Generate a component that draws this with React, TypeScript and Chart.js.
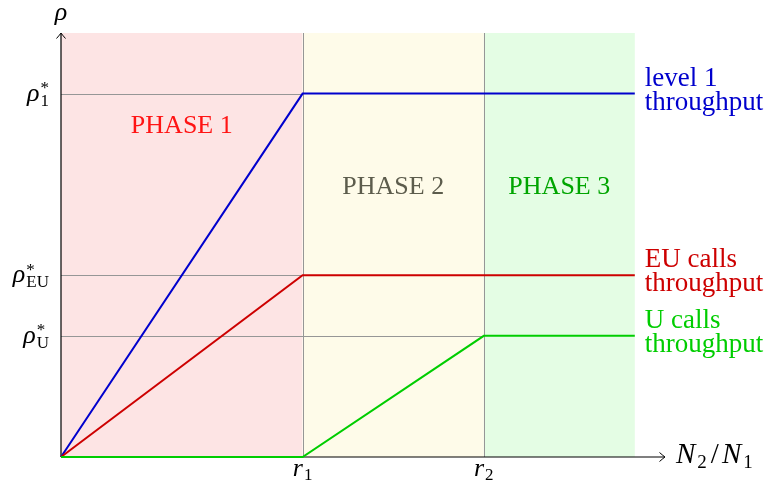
import React, { useEffect, useRef } from 'react';
import { Chart, registerables } from 'chart.js';

Chart.register(...registerables);

// ---- data ----
const xKnots = [0, 4, 7, 9.5];
const level1Throughput = [0, 6, 6, 6];
const euCallsThroughput = [0, 3, 3, 3];
const uCallsThroughput = [0, 0, 2, 2];
const phaseBounds = [0, 4, 7, 9.5];
const phaseNames = ['PHASE 1', 'PHASE 2', 'PHASE 3'];
const xTickValues = [4, 7];
const xTickSubs = ['1', '2'];
const yTickValues = [6, 3, 2];
const yTickSubs = ['1', 'EU', 'U'];
const seriesLabels = [
  ['level 1', 'throughput'],
  ['EU calls', 'throughput'],
  ['U calls', 'throughput'],
];
const X_MAX = 10;
const Y_MAX = 7;

// ---- styles ----
const SERIF = '"Liberation Serif", "Times New Roman", serif';
const f = (size: number, italic = false) => `${italic ? 'italic ' : ''}${size}px ${SERIF}`;
const BLUE = 'rgb(0,0,205)';
const RED = 'rgb(205,0,0)';
const GREEN = 'rgb(0,205,0)';
const phaseFills = ['rgb(253,228,228)', 'rgb(254,251,233)', 'rgb(228,253,228)'];
const phaseColors = ['rgb(255,20,20)', 'rgb(92,92,76)', 'rgb(0,165,0)'];
const seriesColors = [BLUE, RED, GREEN];
const seriesValues = [level1Throughput, euCallsThroughput, uCallsThroughput];

function arrow(ctx: CanvasRenderingContext2D, x: number, y: number, dir: 'right' | 'up') {
  ctx.save();
  ctx.translate(x, y);
  if (dir === 'up') ctx.rotate(-Math.PI / 2);
  ctx.beginPath();
  ctx.moveTo(-5.5, -4.5);
  ctx.quadraticCurveTo(-1.5, -1, 0, 0);
  ctx.quadraticCurveTo(-1.5, 1, -5.5, 4.5);
  ctx.lineWidth = 1;
  ctx.strokeStyle = '#000';
  ctx.stroke();
  ctx.restore();
}

const decorPlugin = {
  id: 'decor',
  beforeDatasetsDraw(chart: any) {
    const ctx: CanvasRenderingContext2D = chart.ctx;
    const xs = chart.scales.x;
    const ys = chart.scales.y;
    const X = (v: number) => xs.getPixelForValue(v);
    const Y = (v: number) => ys.getPixelForValue(v);
    ctx.save();
    // phase shading
    for (let i = 0; i < phaseNames.length; i++) {
      ctx.fillStyle = phaseFills[i];
      const x0 = X(phaseBounds[i]);
      const x1 = X(phaseBounds[i + 1]);
      ctx.fillRect(x0, Y(Y_MAX), x1 - x0, Y(0) - Y(Y_MAX));
    }
    // grey guides
    ctx.strokeStyle = 'rgb(150,150,150)';
    ctx.lineWidth = 1;
    xTickValues.forEach((v) => {
      ctx.beginPath();
      ctx.moveTo(Math.round(X(v)) + 0.5, Y(0));
      ctx.lineTo(Math.round(X(v)) + 0.5, Y(Y_MAX));
      ctx.stroke();
    });
    yTickValues.forEach((v, i) => {
      const vals = seriesValues[i];
      const idx = vals.findIndex((a) => a === v);
      const xe = xKnots[idx];
      ctx.beginPath();
      ctx.moveTo(X(0), Math.round(Y(v)) + 0.5);
      ctx.lineTo(X(xe), Math.round(Y(v)) + 0.5);
      ctx.stroke();
    });
    // phase labels
    ctx.font = f(26);
    ctx.textAlign = 'center';
    ctx.textBaseline = 'alphabetic';
    const phaseLabelY = [5.35, 4.34, 4.34];
    phaseNames.forEach((name, i) => {
      ctx.fillStyle = phaseColors[i];
      ctx.fillText(name, X((phaseBounds[i] + phaseBounds[i + 1]) / 2), Y(phaseLabelY[i]));
    });
    // axes
    ctx.strokeStyle = '#000';
    ctx.lineWidth = 1.2;
    ctx.beginPath();
    ctx.moveTo(X(0), Y(0));
    ctx.lineTo(X(X_MAX) - 0.5, Y(0));
    ctx.moveTo(X(0), Y(0));
    ctx.lineTo(X(0), Y(Y_MAX) + 0.5);
    ctx.stroke();
    arrow(ctx, X(X_MAX), Y(0), 'right');
    arrow(ctx, X(0), Y(Y_MAX), 'up');
    ctx.restore();
  },
  afterDraw(chart: any) {
    const ctx: CanvasRenderingContext2D = chart.ctx;
    const xs = chart.scales.x;
    const ys = chart.scales.y;
    const X = (v: number) => xs.getPixelForValue(v);
    const Y = (v: number) => ys.getPixelForValue(v);
    ctx.save();
    ctx.textBaseline = 'alphabetic';
    ctx.textAlign = 'left';
    ctx.fillStyle = '#000';

    // y tick labels: rho*_sub
    yTickValues.forEach((v, i) => {
      const py = Y(v);
      ctx.font = f(26, true);
      const wRho = ctx.measureText('ρ').width;
      ctx.font = f(17);
      const wSub = ctx.measureText(yTickSubs[i]).width;
      const wStar = ctx.measureText('*').width;
      const total = wRho + Math.max(wSub, wStar) + 1;
      const sx = X(0) - 12 - total;
      ctx.font = f(26, true);
      ctx.fillText('ρ', sx, py + 7);
      ctx.font = f(17);
      ctx.fillText('*', sx + wRho + 1, py - 0.5);
      ctx.fillText(yTickSubs[i], sx + wRho + 1, py + 12);
    });

    // x tick labels: r_sub
    xTickValues.forEach((v, i) => {
      const px = X(v);
      ctx.font = f(26, true);
      const wr = ctx.measureText('r').width;
      ctx.font = f(17);
      const ws = ctx.measureText(xTickSubs[i]).width;
      const sx = px - (wr + ws + 1) / 2;
      ctx.font = f(26, true);
      ctx.fillText('r', sx, Y(0) + 19);
      ctx.font = f(17);
      ctx.fillText(xTickSubs[i], sx + wr + 1, Y(0) + 23);
    });

    // axis titles
    ctx.font = f(26, true);
    ctx.textAlign = 'center';
    ctx.fillText('ρ', X(0), Y(Y_MAX) - 13);
    ctx.textAlign = 'left';
    let cx = X(X_MAX) + 11;
    const by = Y(0) + 6;
    const runs: [string, string, number, number][] = [
      ['N', f(29, true), 0, 2],
      ['2', f(19), 5, 4],
      ['/', f(29), 0, 3],
      ['N', f(29, true), 0, 2],
      ['1', f(19), 5, 0],
    ];
    runs.forEach(([t, ft, dy, gap]) => {
      ctx.font = ft;
      ctx.fillText(t, cx, by + dy);
      cx += ctx.measureText(t).width + gap;
    });

    // series labels on the right
    ctx.font = f(27);
    const lx = X(phaseBounds[phaseBounds.length - 1]) + 10;
    seriesLabels.forEach((lines, i) => {
      const vals = seriesValues[i];
      const py = Y(vals[vals.length - 1]);
      ctx.fillStyle = seriesColors[i];
      ctx.fillText(lines[0], lx, py - 8);
      ctx.fillText(lines[1], lx, py + 16);
    });
    ctx.restore();
  },
};

export default function App() {
  const ref = useRef<HTMLCanvasElement | null>(null);
  useEffect(() => {
    if (!ref.current) return;
    const mk = (vals: number[]) => xKnots.map((x, i) => ({ x, y: vals[i] }));
    const chart = new Chart(ref.current, {
      type: 'scatter',
      data: {
        datasets: [
          { label: 'U calls throughput', data: mk(uCallsThroughput), borderColor: GREEN, borderWidth: 2, showLine: true, pointRadius: 0, clip: false } as any,
          { label: 'EU calls throughput', data: mk(euCallsThroughput), borderColor: RED, borderWidth: 2, showLine: true, pointRadius: 0, clip: false } as any,
          { label: 'level 1 throughput', data: mk(level1Throughput), borderColor: BLUE, borderWidth: 2, showLine: true, pointRadius: 0, clip: false } as any,
        ],
      },
      options: {
        animation: false,
        responsive: false,
        devicePixelRatio: 1,
        layout: { padding: { left: 61, right: 104, top: 33, bottom: 24 } },
        plugins: { legend: { display: false }, tooltip: { enabled: false } },
        elements: { line: { tension: 0 }, point: { radius: 0 } },
        scales: {
          x: { type: 'linear', min: 0, max: X_MAX, display: false },
          y: { type: 'linear', min: 0, max: Y_MAX, display: false },
        },
      },
      plugins: [decorPlugin],
    });
    return () => chart.destroy();
  }, []);
  return (
    <div style={{ position: 'absolute', left: 0, top: 0, width: 769, height: 481, background: '#fff' }}>
      <canvas ref={ref} width={769} height={481} style={{ display: 'block' }} />
    </div>
  );
}
